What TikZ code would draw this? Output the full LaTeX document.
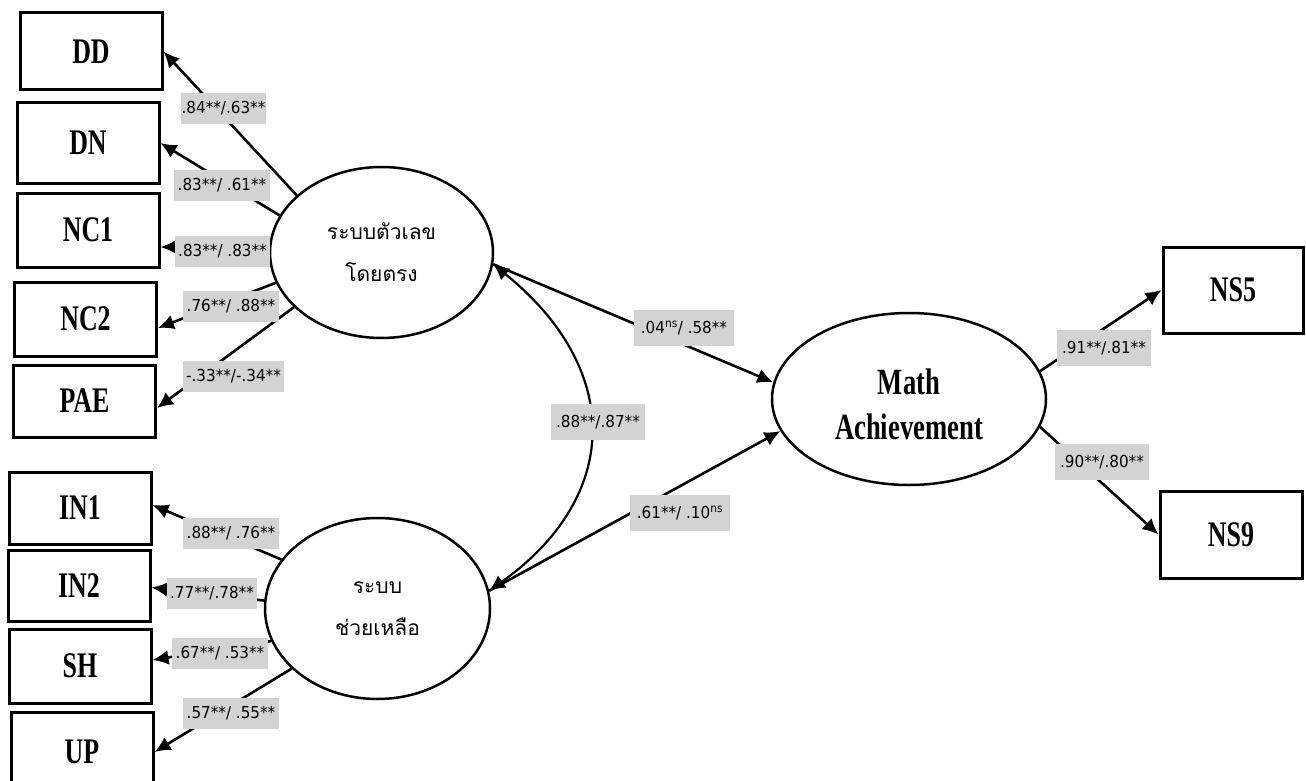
\documentclass[tikz,border=0pt]{standalone}
\usepackage{fontspec}
\usetikzlibrary{shapes.geometric,arrows.meta}
\newfontfamily\thaifont[Script=Thai]{Loma}
\newfontfamily\boxfont[FakeStretch=0.72]{Liberation Serif}
\newfontfamily\lblfont[FakeStretch=0.92]{DejaVu Sans}
\definecolor{lblgray}{RGB}{211,211,211}

\tikzset{
  obs/.style={draw, line width=3pt, minimum width=142pt, inner sep=0pt,
    font=\boxfont\bfseries\fontsize{36}{40}\selectfont},
  lat/.style={draw, ellipse, line width=2.5pt, inner sep=0pt, align=center},
  thaitext/.style={font=\thaifont\fontsize{21}{42}\selectfont},
  coef/.style={fill=lblgray, inner xsep=1pt, inner ysep=0pt, minimum height=31pt,
    font=\lblfont\fontsize{16.5}{18}\selectfont},
  coefm/.style={coef, minimum height=36pt},
  reg/.style={line width=2.6pt, -{Latex[length=16pt,width=15pt]}},
  cov/.style={line width=2.2pt, {Latex[length=16pt,width=15pt]}-{Latex[length=16pt,width=15pt]}},
}

\begin{document}
\begin{tikzpicture}[x=1pt,y=-1pt]
\useasboundingbox (0,0) rectangle (1306,781);

% observed indicators, left
\node[obs, minimum height=77pt] (DD)  at (91,51.5)   {DD};
\node[obs, minimum height=80pt] (DN)  at (88,143)    {DN};
\node[obs, minimum height=74pt] (NC1) at (88,230)    {NC1};
\node[obs, minimum height=74pt] (NC2) at (85.5,319)  {NC2};
\node[obs, minimum height=72pt] (PAE) at (84.5,401)  {PAE};
\node[obs, minimum height=72pt] (IN1) at (80,508)    {IN1};
\node[obs, minimum height=71pt] (IN2) at (79,585.5)  {IN2};
\node[obs, minimum height=74pt] (SH)  at (80,666)    {SH};
\node[obs, minimum height=80pt] (UP)  at (82,752)    {UP};

% observed indicators, right
\node[obs, minimum width=140pt, minimum height=86pt] (NS5) at (1233,290)   {NS5};
\node[obs, minimum width=142pt, minimum height=87pt] (NS9) at (1231,534.5) {NS9};

% latent variables
\node[lat, thaitext, minimum width=223pt, minimum height=171pt] (num) at (381.5,252.5) {ระบบตัวเลข\\โดยตรง};
\node[lat, thaitext, minimum width=225pt, minimum height=181pt] (low) at (377.5,608.5) {ระบบ\\ช่วยเหลือ};
\node[lat, minimum width=274pt, minimum height=172pt,
      label={[font=\boxfont\bfseries\fontsize{37}{45}\selectfont, align=center, yshift=-5pt]center:Math\\Achievement}]
      (ach) at (909,399) {};

% loadings
\draw[reg] (num.146) -- (DD.east);
\draw[reg] (num.160) -- (DN.east);
\draw[reg] (num.177) -- ([yshift=-17pt]NC1.east);
\draw[reg] (num.196) -- ([yshift=-9pt]NC2.east);
\draw[reg] (num.212) -- ([yshift=-7pt]PAE.east);
\draw[reg] (low.153) -- ([yshift=3pt]IN1.east);
\draw[reg] (low.176) -- ([yshift=-2pt]IN2.east);
\draw[reg] (low.197) -- ([yshift=6pt]SH.east);
\draw[reg] (low.215) -- (UP.east);
\draw[reg] (ach.12) -- (NS5.west);
\draw[reg] (ach.-12) -- (NS9.west);

% structural paths
\draw[reg] (num.-6) -- (ach.173);
\draw[reg] (low.9) -- (ach.194);

% covariance between the two latent factors
\draw[cov] (num.-6) .. controls (624,370) and (621,497) .. (low.9);

% coefficients
\node[coef, minimum width=85pt]  (c1) at (223.5,108.5) {.84**/.63**};
\node[coef, minimum width=96pt]  (c2) at (222,185)     {.83**/ .61**};
\node[coef, minimum width=95pt]  (c3) at (222.5,251)   {.83**/ .83**};
\node[coef, minimum width=96pt]  (c4) at (231,306)     {.76**/ .88**};
\node[coef, minimum width=101pt] (c5) at (233.5,376.5) {-.33**/-.34**};
\node[coef, minimum width=96pt]  (c6) at (231,533.5)   {.88**/ .76**};
\node[coef, minimum width=90pt]  (c7) at (212,593.5)   {.77**/.78**};
\node[coef, minimum width=96pt]  (c8) at (220,653.5)   {.67**/ .53**};
\node[coef, minimum width=96pt]  (c9) at (231,713.5)   {.57**/ .55**};
\node[coefm, minimum width=100pt] (m1) at (684,328)    {.04\textsuperscript{ns}/ .58**};
\node[coefm, minimum width=94pt]  (m2) at (598,422)    {.88**/.87**};
\node[coefm, minimum width=100pt] (m3) at (680,513)    {.61**/ .10\textsuperscript{ns}};
\node[coefm, minimum width=94pt]  (r1) at (1104,348)   {.91**/.81**};
\node[coefm, minimum width=94pt]  (r2) at (1102,462)   {.90**/.80**};
\end{tikzpicture}
\end{document}
